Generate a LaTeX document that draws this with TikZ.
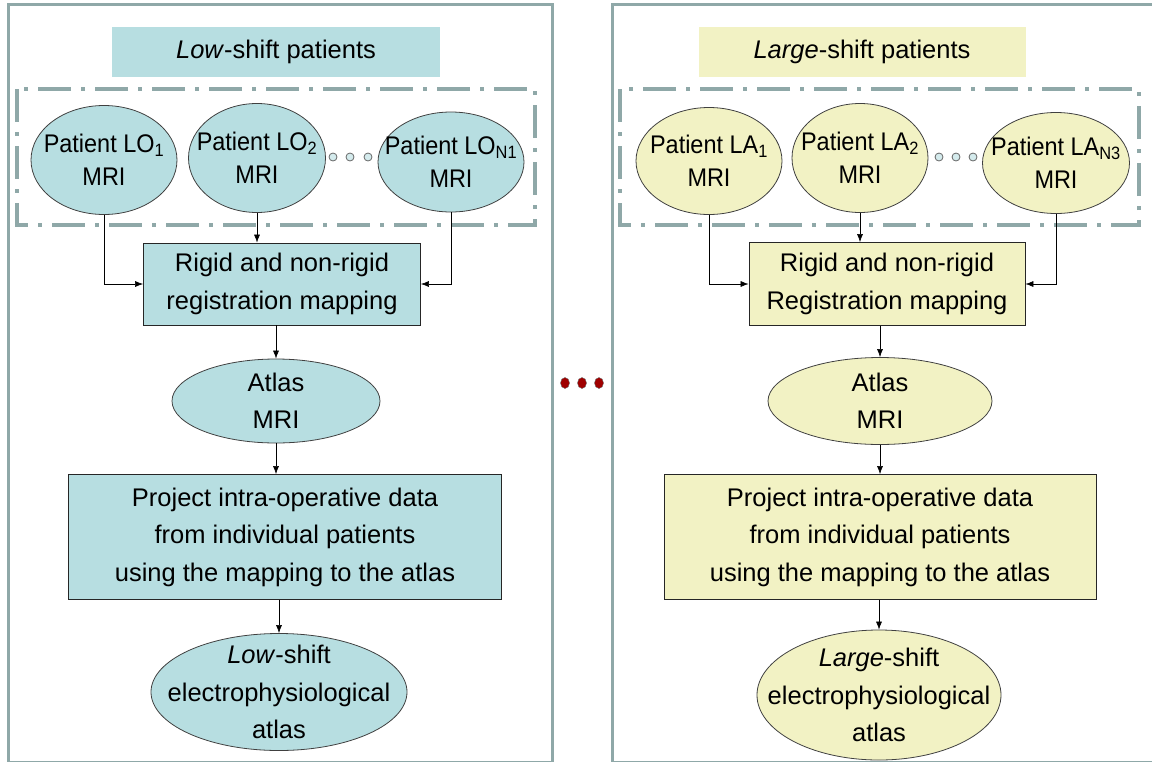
\documentclass[tikz,border=0pt]{standalone}
\usepackage{fontspec}
\setmainfont{Liberation Sans}
\newfontfamily\patfont[FakeStretch=0.92]{Liberation Sans}
\usetikzlibrary{shapes.geometric,arrows.meta}
\usepackage{color}

\definecolor{frame}{HTML}{8FA8A8}
\definecolor{lowfill}{HTML}{B7DEE1}
\definecolor{largefill}{HTML}{F2F2C4}
\definecolor{dotred}{HTML}{A00000}

\begin{document}
\begin{tikzpicture}[x=1pt,y=-1pt,
  txt/.style={font=\fontsize{25.5}{37.5}\selectfont, align=center, text=black, inner sep=0pt},
  ptxt/.style={font=\patfont\fontsize{25.5}{33}\selectfont, align=center, text=black, inner sep=0pt},
  oval/.style={ellipse, draw=black!75, line width=0.8pt, inner sep=0pt},
  box/.style={rectangle, draw=black!85, line width=0.8pt, inner sep=0pt, txt},
  arr/.style={-{Latex[length=8pt,width=6pt]}, line width=0.6pt},
  panel/.style={draw=frame, line width=3pt},
  group/.style={draw=frame, line width=4.5pt, dash pattern=on 33pt off 10pt on 4pt off 10pt}]
\useasboundingbox (0,0) rectangle (1152,761);
\clip (0,0) rectangle (1152,761);

% the two panels
\draw[panel] (8,4) rectangle (552,762);
\draw[panel] (612,4) rectangle (1160,762);

% titles
\node[box, draw=none, fill=lowfill, minimum width=328pt, minimum height=50pt] (lowtitle) at (276,52) {\textit{Low}-shift patients};
\node[box, draw=none, fill=largefill, minimum width=327pt, minimum height=50pt] (largetitle) at (862,52) {\textit{Large}-shift patients};

% dash-dot groups round the patients
\draw[group] (17,89) rectangle (535,225);
\draw[group] (620,89) rectangle (1139,225);

% low-shift patients
\node[oval, fill=lowfill, minimum width=146pt, minimum height=109pt, label={[ptxt]center:{Patient LO\textsubscript{1}\\MRI}}] (lo1) at (104,160) {};
\node[oval, fill=lowfill, minimum width=137pt, minimum height=109pt, label={[ptxt]center:{Patient LO\textsubscript{2}\\MRI}}] (lo2) at (257,158) {};
\node[oval, fill=lowfill, minimum width=146pt, minimum height=100pt, label={[ptxt]center:{Patient LO\textsubscript{N1}\\MRI}}] (lon) at (451,162) {};
\foreach \x in {333,350,368}
  \draw[draw=black!60, fill=lowfill!60, line width=0.8pt] (\x,157) circle [radius=4pt];

% large-shift patients
\node[oval, fill=largefill, minimum width=146pt, minimum height=107pt, label={[ptxt]center:{Patient LA\textsubscript{1}\\MRI}}] (la1) at (709,161) {};
\node[oval, fill=largefill, minimum width=136pt, minimum height=109pt, label={[ptxt]center:{Patient LA\textsubscript{2}\\MRI}}] (la2) at (860,158) {};
\node[oval, fill=largefill, minimum width=147pt, minimum height=101pt, label={[ptxt]center:{Patient LA\textsubscript{N3}\\MRI}}] (lan) at (1056,163) {};
\foreach \x in {939,956,973}
  \draw[draw=black!60, fill=lowfill!60, line width=0.8pt] (\x,157) circle [radius=4pt];

% low-shift chain
\node[box, fill=lowfill, minimum width=277pt, minimum height=82pt] (reglow) at (282,284) {Rigid and non-rigid\\registration mapping};
\node[oval, fill=lowfill, minimum width=208pt, minimum height=84pt, label={[txt]center:{Atlas\\MRI}}] (atlaslow) at (276,401) {};
\node[box, fill=lowfill, minimum width=433pt, minimum height=125pt] (projlow) at (285,537) {Project intra-operative data\\from individual patients\\using the mapping to the atlas};
\node[oval, fill=lowfill, minimum width=256pt, minimum height=117pt, label={[txt]center:{\textit{Low}-shift\\electrophysiological\\atlas}}] (atlasfinlow) at (279,692) {};

% large-shift chain
\node[box, fill=largefill, minimum width=276pt, minimum height=83pt] (reglarge) at (887,284) {Rigid and non-rigid\\Registration mapping};
\node[oval, fill=largefill, minimum width=224pt, minimum height=87pt, label={[txt]center:{Atlas\\MRI}}] (atlaslarge) at (880,401) {};
\node[box, fill=largefill, minimum width=432pt, minimum height=125pt] (projlarge) at (880,537) {Project intra-operative data\\from individual patients\\using the mapping to the atlas};
\node[oval, fill=largefill, minimum width=244pt, minimum height=130pt, label={[txt]center:{\textit{Large}-shift\\electrophysiological\\atlas}}] (atlasfinlarge) at (879,695) {};

% arrows, low-shift side
\draw[arr] (lo1.south) -- (lo1.south |- reglow.west) -- (reglow.west);
\draw[arr] (lo2.south) -- (lo2.south |- reglow.north);
\draw[arr] (lon.south) -- (lon.south |- reglow.east) -- (reglow.east);
\draw[arr] (atlaslow.north |- reglow.south) -- (atlaslow.north);
\draw[arr] (atlaslow.south) -- (atlaslow.south |- projlow.north);
\draw[arr] (atlasfinlow.north |- projlow.south) -- (atlasfinlow.north);

% arrows, large-shift side
\draw[arr] (la1.south) -- (la1.south |- reglarge.west) -- (reglarge.west);
\draw[arr] (la2.south) -- (la2.south |- reglarge.north);
\draw[arr] (lan.south) -- (lan.south |- reglarge.east) -- (reglarge.east);
\draw[arr] (atlaslarge.north |- reglarge.south) -- (atlaslarge.north);
\draw[arr] (atlaslarge.south) -- (atlaslarge.south |- projlarge.north);
\draw[arr] (atlasfinlarge.north |- projlarge.south) -- (atlasfinlarge.north);

% dots between the panels
\foreach \x in {565,582,599}
  \draw[fill=dotred, draw=black!60, line width=0.4pt] (\x,383) ellipse [x radius=4.5pt, y radius=5.5pt];
\end{tikzpicture}
\end{document}
